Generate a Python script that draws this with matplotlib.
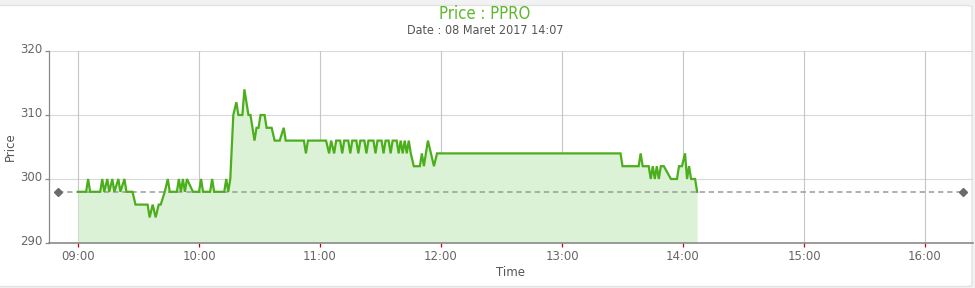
import matplotlib
matplotlib.use("Agg")
import matplotlib.pyplot as plt
import matplotlib.transforms as mtransforms
from matplotlib.patches import FancyBboxPatch
import pandas as pd

# ---------------- data ----------------
title = "Price : PPRO"
subtitle = "Date : 08 Maret 2017 14:07"
trade_date = "2017-03-08"
prev_close = 298
y_ticks = [290, 300, 310, 320]
x_tick_labels = ["09:00", "10:00", "11:00", "12:00", "13:00", "14:00", "15:00", "16:00"]

times = [
    "09:00:00", "09:04:00", "09:05:00", "09:06:00", "09:11:00", "09:12:00", "09:13:00",
    "09:14:30", "09:15:30", "09:17:00", "09:18:00", "09:20:00", "09:21:00", "09:23:00",
    "09:24:00", "09:27:00", "09:28:30", "09:34:30", "09:35:30", "09:37:00", "09:38:30",
    "09:40:00", "09:41:00", "09:43:00", "09:44:30", "09:45:30", "09:49:00", "09:50:00",
    "09:51:00", "09:52:00", "09:53:00", "09:54:00", "09:57:00", "10:00:00", "10:01:00",
    "10:02:00", "10:05:30", "10:06:30", "10:07:30", "10:12:30", "10:13:30", "10:14:30",
    "10:15:30", "10:17:00", "10:18:30", "10:19:30", "10:21:30", "10:22:30", "10:24:30",
    "10:25:30", "10:27:30", "10:28:30", "10:29:30", "10:30:30", "10:32:30", "10:33:30",
    "10:36:00", "10:37:30", "10:40:00", "10:42:00", "10:43:00", "10:52:00", "10:53:00",
    "10:54:00", "11:03:00", "11:04:30", "11:05:30", "11:07:00", "11:08:00", "11:10:00",
    "11:11:00", "11:12:00", "11:14:00", "11:15:00", "11:16:00", "11:18:00", "11:19:00",
    "11:20:00", "11:22:00", "11:23:00", "11:24:00", "11:26:30", "11:27:30", "11:28:30",
    "11:30:30", "11:31:30", "11:32:30", "11:34:00", "11:35:00", "11:36:00", "11:38:00",
    "11:39:00", "11:40:00", "11:41:00", "11:42:00", "11:43:00", "11:44:00", "11:45:00",
    "11:46:30", "11:49:30", "11:50:30", "11:51:30", "11:53:30", "11:55:00", "11:56:30",
    "11:58:00", "13:29:00", "13:30:00", "13:38:00", "13:39:00", "13:40:00", "13:43:00",
    "13:44:00", "13:45:00", "13:46:00", "13:47:00", "13:48:00", "13:49:00", "13:50:30",
    "13:54:00", "13:57:00", "13:58:00", "13:59:30", "14:01:00", "14:02:00", "14:03:00",
    "14:04:00", "14:06:00", "14:07:00",
]
prices = [
    298, 298, 300, 298, 298, 300, 298,
    300, 298, 300, 298, 300, 298, 300,
    298, 298, 296, 296, 294, 296, 294,
    296, 296, 298, 300, 298, 298, 300,
    298, 300, 298, 300, 298, 298, 300,
    298, 298, 300, 298, 298, 300, 298,
    300, 310, 312, 310, 310, 314, 310,
    310, 306, 308, 308, 310, 310, 308,
    308, 306, 306, 308, 306, 306, 304,
    306, 306, 304, 306, 304, 306, 306,
    304, 306, 306, 304, 306, 306, 304,
    306, 306, 304, 306, 306, 304, 306,
    306, 304, 306, 306, 304, 306, 306,
    304, 306, 304, 306, 304, 306, 304,
    302, 302, 304, 302, 306, 304, 302,
    304, 304, 302, 302, 304, 302, 302,
    300, 302, 300, 302, 300, 302, 302,
    300, 300, 302, 302, 304, 300, 302,
    300, 300, 298,
]

# ---------------- style ----------------
W, H = 975, 288
line_color = "#4cae1c"
fill_color = "#dcf2d6"
title_color = "#5cb82c"
text_color = "#666666"

plt.rcParams["font.family"] = ["DejaVu Sans"]

fig = plt.figure(figsize=(W / 100, H / 100), dpi=100)
fig.patch.set_facecolor("#f2f2f2")
frame = FancyBboxPatch((-10 / W, 1.5 / H), (982 / W), (281 / H),
                       boxstyle="round,pad=0,rounding_size=0.006",
                       transform=fig.transFigure, facecolor="white",
                       edgecolor="#e2e2e2", linewidth=1, zorder=-10)
fig.patches.append(frame)

left_px, right_px, top_px, bottom_px = 49, 973, 51, 243
ax = fig.add_axes([left_px / W, (H - bottom_px) / H,
                   (right_px - left_px) / W, (bottom_px - top_px) / H])
ax.set_facecolor("none")
ax.set_zorder(1)

t = pd.to_datetime([f"{trade_date} {s}" for s in times])
start = pd.Timestamp(f"{trade_date} 09:00")
xmin = start - pd.Timedelta(minutes=14.4)
xmax = start + pd.Timedelta(minutes=443.8)
ax.set_xlim(xmin, xmax)
ax.set_ylim(y_ticks[0], y_ticks[-1])

ybottom = ax.get_ylim()[0]
ax.fill_between(t, prices, ybottom, color=fill_color, linewidth=0, zorder=1)

# previous close dashed line with diamond ends
pc_x = [xmin + pd.Timedelta(minutes=4.5), xmax - pd.Timedelta(minutes=5)]
ax.plot(pc_x, [prev_close, prev_close], color="#9a9a9a", lw=1.1,
        dashes=(3.5, 2.5), zorder=2)
ax.plot(pc_x, [prev_close, prev_close], linestyle="none", marker="D",
        markersize=4.2, color="#6b6b6b", zorder=3)

ax.plot(t, prices, color=line_color, lw=1.6, zorder=4, solid_joinstyle="miter")

# ticks / grid
tick_pos = pd.to_datetime([f"{trade_date} {s}" for s in x_tick_labels])
ax.set_xticks(tick_pos)
ax.set_xticklabels(x_tick_labels)
ax.set_yticks(y_ticks)
ax.set_yticklabels([str(v) for v in y_ticks])

for v in y_ticks[1:]:
    ax.axhline(v, color="#d9d9d9", lw=0.8, zorder=0.5)
for xp in tick_pos:
    ax.axvline(xp, color="#c6c6c6", lw=0.8, zorder=0.5)

for s in ["top", "right"]:
    ax.spines[s].set_visible(False)
ax.spines["left"].set_color("#8a8a8a")
ax.spines["left"].set_linewidth(0.9)
ax.spines["bottom"].set_color("#8a8a8a")
ax.spines["bottom"].set_linewidth(1.2)
ax.spines["bottom"].set_zorder(5)

ax.tick_params(axis="x", colors="#cc0000", length=3, width=0.9, pad=2,
               labelcolor=text_color, labelsize=8.5)
ax.tick_params(axis="y", colors="#8a8a8a", length=3, width=0.9, pad=1.5,
               labelcolor=text_color, labelsize=8.5)
shift = mtransforms.ScaledTranslation(0, 3 / 100, fig.dpi_scale_trans)
for lab in ax.get_yticklabels():
    lab.set_transform(lab.get_transform() + shift)

# texts
fig.text(485 / W, 1 - 14 / H, title, ha="center", va="center", fontsize=12,
         color=title_color, family="DejaVu Sans", stretch="condensed")
fig.text(485 / W, 1 - 30 / H, subtitle, ha="center", va="center", fontsize=9,
         color="#555555", family="DejaVu Sans", stretch="condensed")
fig.text(511 / W, 1 - 272 / H, "Time", ha="center", va="center", fontsize=8.5,
         color="#555555")
fig.text(10 / W, 1 - 147 / H, "Price", ha="center", va="center", fontsize=8.5,
         color="#555555", rotation=90)

fig.savefig("out.png", dpi=100, facecolor=fig.get_facecolor())
